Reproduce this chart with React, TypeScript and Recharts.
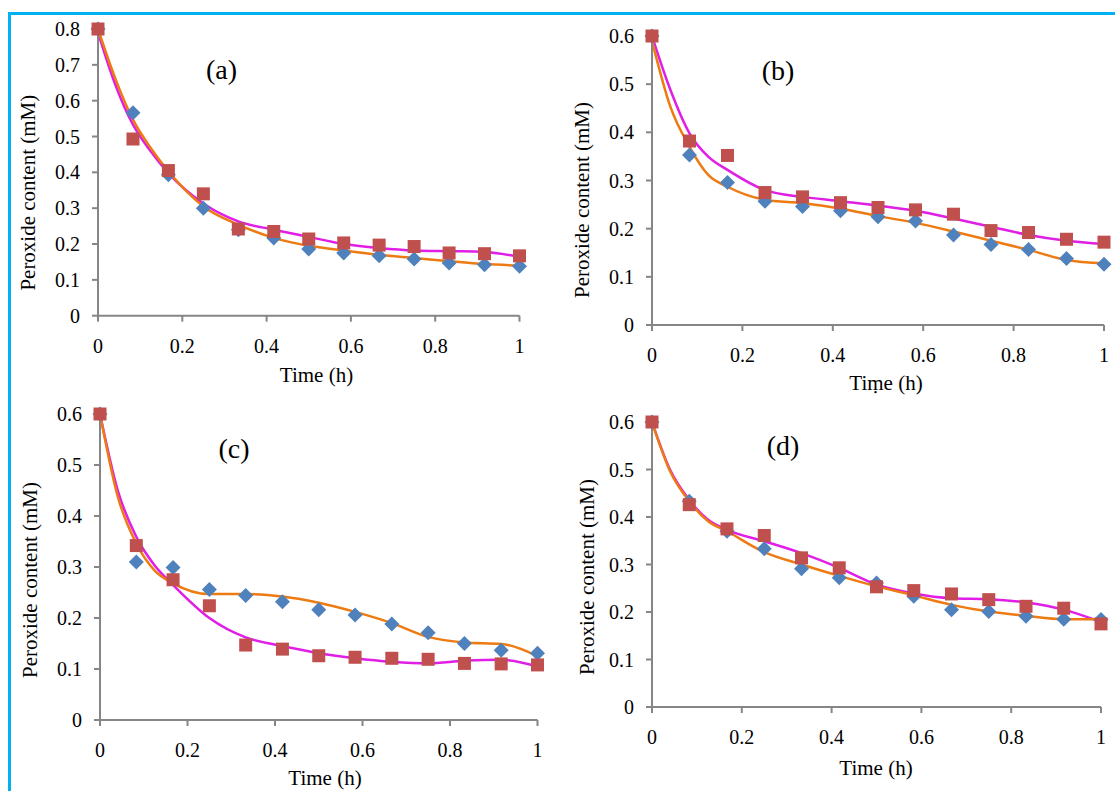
import React from 'react';
import {
  ComposedChart,
  Scatter,
  Line,
  XAxis,
  YAxis,
  Label,
} from 'recharts';

// sampling times (h) of the measured points
const TIME = [0, 0.083, 0.167, 0.25, 0.333, 0.417, 0.5, 0.583, 0.667, 0.75, 0.833, 0.917, 1];
// times at which the fitted curves are listed
const FIT_TIME = [0, 0.04, 0.083, 0.125, 0.167, 0.25, 0.333, 0.417, 0.5, 0.583, 0.667, 0.75, 0.833, 0.917, 1];

const X_TICKS = [0, 0.2, 0.4, 0.6, 0.8, 1];
const Y_TICKS_08 = [0, 0.1, 0.2, 0.3, 0.4, 0.5, 0.6, 0.7, 0.8];
const Y_TICKS_06 = [0, 0.1, 0.2, 0.3, 0.4, 0.5, 0.6];

// (a)
const aDiamond = [0.8, 0.566, 0.393, 0.3, 0.24, 0.217, 0.186, 0.175, 0.167, 0.158, 0.147, 0.142, 0.138];
const aSquare = [0.8, 0.493, 0.405, 0.34, 0.242, 0.235, 0.214, 0.203, 0.197, 0.193, 0.175, 0.173, 0.167];
const aFitOrange = [0.8, 0.665, 0.547, 0.468, 0.403, 0.305, 0.254, 0.217, 0.195, 0.182, 0.17, 0.161, 0.152, 0.144, 0.14];
const aFitMagenta = [0.79, 0.648, 0.533, 0.459, 0.398, 0.313, 0.263, 0.24, 0.22, 0.2, 0.189, 0.182, 0.18, 0.178, 0.164];

// (b)
const bDiamond = [0.6, 0.353, 0.296, 0.257, 0.246, 0.237, 0.225, 0.216, 0.187, 0.167, 0.157, 0.138, 0.126];
const bSquare = [0.6, 0.382, 0.352, 0.275, 0.266, 0.254, 0.244, 0.239, 0.23, 0.196, 0.192, 0.178, 0.172];
const bFitOrange = [0.59, 0.455, 0.37, 0.311, 0.287, 0.26, 0.253, 0.242, 0.226, 0.212, 0.194, 0.175, 0.156, 0.135, 0.128];
const bFitMagenta = [0.6, 0.49, 0.398, 0.349, 0.322, 0.28, 0.266, 0.257, 0.248, 0.237, 0.221, 0.204, 0.187, 0.175, 0.168];

// (c)
const cDiamond = [0.6, 0.31, 0.299, 0.256, 0.244, 0.232, 0.216, 0.206, 0.188, 0.171, 0.15, 0.137, 0.131];
const cSquare = [0.6, 0.342, 0.275, 0.224, 0.147, 0.139, 0.126, 0.123, 0.121, 0.119, 0.111, 0.11, 0.108];
const cFitOrange = [0.6, 0.44, 0.346, 0.293, 0.268, 0.247, 0.247, 0.242, 0.23, 0.212, 0.19, 0.163, 0.152, 0.149, 0.125];
const cFitMagenta = [0.6, 0.452, 0.359, 0.303, 0.265, 0.2, 0.162, 0.145, 0.131, 0.121, 0.114, 0.111, 0.116, 0.118, 0.105];

// (d)
const dDiamond = [0.6, 0.433, 0.37, 0.333, 0.291, 0.272, 0.261, 0.233, 0.205, 0.201, 0.191, 0.185, 0.184];
const dSquare = [0.6, 0.426, 0.375, 0.361, 0.314, 0.293, 0.253, 0.245, 0.238, 0.226, 0.212, 0.208, 0.175];
const dFitOrange = [0.6, 0.497, 0.433, 0.391, 0.37, 0.326, 0.3, 0.276, 0.254, 0.235, 0.215, 0.201, 0.192, 0.185, 0.185];
const dFitMagenta = [0.6, 0.5, 0.436, 0.394, 0.373, 0.349, 0.324, 0.293, 0.258, 0.239, 0.229, 0.227, 0.22, 0.205, 0.179];

const FONT = "'Liberation Serif', 'Times New Roman', serif";
const AXIS = '#868686';
const BLUE = '#4F81BD';
const RED = '#C0504D';
const ORANGE = '#EE7A12';
const MAGENTA = '#E01EE6';

const toPoints = (xs: number[], ys: number[]) => xs.map((x, i) => ({ x, y: ys[i] }));
const fmt = (v: number) => String(v);

const Diamond = (props: any) => {
  const { cx, cy } = props;
  const r = 7.5;
  return (
    <polygon
      points={`${cx},${cy - r} ${cx + r},${cy} ${cx},${cy + r} ${cx - r},${cy}`}
      fill={BLUE}
    />
  );
};

const Square = (props: any) => {
  const { cx, cy } = props;
  return <rect x={cx - 6.5} y={cy - 6.5} width={13} height={13} fill={RED} />;
};

interface PanelProps {
  letter: string;
  timeLabel: string;
  plot: { left: number; right: number; top: number; bottom: number };
  yMax: number;
  yTicks: number[];
  diamonds: number[];
  squares: number[];
  fitOrange: number[];
  fitMagenta: number[];
  letterPos: [number, number];
  timePos: [number, number];
  yLabelPos: [number, number];
}

// room around each plot area for ticks and titles
const PAD_LEFT = 96;
const PAD_TOP = 20;
const PAD_RIGHT = 10;
const PAD_BOTTOM = 80;

function Panel(p: PanelProps) {
  const originX = p.plot.left - PAD_LEFT;
  const originY = p.plot.top - PAD_TOP;
  const width = p.plot.right - p.plot.left + PAD_LEFT + PAD_RIGHT;
  const height = p.plot.bottom - p.plot.top + PAD_TOP + PAD_BOTTOM;
  const tickStyle = { fontSize: 20, fill: '#000', fontFamily: FONT };

  return (
    <div style={{ position: 'absolute', left: originX, top: originY }}>
      <ComposedChart
        width={width}
        height={height}
        margin={{ top: PAD_TOP, right: PAD_RIGHT, bottom: 0, left: 0 }}
      >
        <XAxis
          type="number"
          dataKey="x"
          domain={[0, 1]}
          ticks={X_TICKS}
          tickFormatter={fmt}
          height={PAD_BOTTOM}
          tick={tickStyle}
          tickSize={6}
          tickMargin={17}
          stroke={AXIS}
          strokeWidth={2}
          tickLine={{ stroke: AXIS, strokeWidth: 2 }}
          label={
            <Label
              content={() => (
                <g>
                  <text
                    x={p.timePos[0] - originX}
                    y={p.timePos[1] - originY}
                    textAnchor="middle"
                    dominantBaseline="central"
                    fontFamily={FONT}
                    fontSize={21}
                    fill="#000"
                  >
                    {p.timeLabel}
                  </text>
                  <text
                    x={p.letterPos[0] - originX}
                    y={p.letterPos[1] - originY}
                    textAnchor="middle"
                    dominantBaseline="central"
                    fontFamily={FONT}
                    fontSize={28}
                    fill="#000"
                  >
                    {p.letter}
                  </text>
                </g>
              )}
            />
          }
        />
        <YAxis
          type="number"
          domain={[0, p.yMax]}
          ticks={p.yTicks}
          tickFormatter={fmt}
          width={PAD_LEFT}
          tick={tickStyle}
          tickSize={6}
          tickMargin={12}
          stroke={AXIS}
          strokeWidth={2}
          tickLine={{ stroke: AXIS, strokeWidth: 2 }}
          label={
            <Label
              content={() => {
                const x = p.yLabelPos[0] - originX;
                const y = p.yLabelPos[1] - originY;
                return (
                  <text
                    x={x}
                    y={y}
                    transform={`rotate(-90, ${x}, ${y})`}
                    textAnchor="middle"
                    dominantBaseline="central"
                    fontFamily={FONT}
                    fontSize={21}
                    fill="#000"
                  >
                    Peroxide content (mM)
                  </text>
                );
              }}
            />
          }
        />
        <Scatter
          data={toPoints(TIME, p.diamonds)}
          dataKey="y"
          shape={Diamond}
          isAnimationActive={false}
        />
        <Scatter
          data={toPoints(TIME, p.squares)}
          dataKey="y"
          shape={Square}
          isAnimationActive={false}
        />
        <Line
          data={toPoints(FIT_TIME, p.fitMagenta)}
          dataKey="y"
          type="monotone"
          stroke={MAGENTA}
          strokeWidth={2.5}
          dot={false}
          activeDot={false}
          isAnimationActive={false}
        />
        <Line
          data={toPoints(FIT_TIME, p.fitOrange)}
          dataKey="y"
          type="monotone"
          stroke={ORANGE}
          strokeWidth={2.5}
          dot={false}
          activeDot={false}
          isAnimationActive={false}
        />
      </ComposedChart>
    </div>
  );
}

export default function App() {
  return (
    <div
      style={{
        position: 'absolute',
        left: 0,
        top: 0,
        width: 1115,
        height: 791,
        background: '#fff',
        overflow: 'hidden',
        fontFamily: FONT,
      }}
    >
      {/* frame edges */}
      <div style={{ position: 'absolute', left: 8, top: 12, width: 1107, height: 3, background: '#00B0F0', zIndex: 2 }} />
      <div style={{ position: 'absolute', left: 8, top: 12, width: 3, height: 779, background: '#00B0F0', zIndex: 2 }} />

      <Panel
        letter="(a)"
        timeLabel="Time (h)"
        plot={{ left: 97.5, right: 519, top: 29.3, bottom: 316 }}
        yMax={0.8}
        yTicks={Y_TICKS_08}
        diamonds={aDiamond}
        squares={aSquare}
        fitOrange={aFitOrange}
        fitMagenta={aFitMagenta}
        letterPos={[221, 70]}
        timePos={[316, 375]}
        yLabelPos={[27, 193]}
      />
      <Panel
        letter="(b)"
        timeLabel="Tiṃe (h)"
        plot={{ left: 652, right: 1104, top: 36, bottom: 325 }}
        yMax={0.6}
        yTicks={Y_TICKS_06}
        diamonds={bDiamond}
        squares={bSquare}
        fitOrange={bFitOrange}
        fitMagenta={bFitMagenta}
        letterPos={[778, 70]}
        timePos={[886, 383]}
        yLabelPos={[582, 200]}
      />
      <Panel
        letter="(c)"
        timeLabel="Time (h)"
        plot={{ left: 100, right: 537.5, top: 414, bottom: 720 }}
        yMax={0.6}
        yTicks={Y_TICKS_06}
        diamonds={cDiamond}
        squares={cSquare}
        fitOrange={cFitOrange}
        fitMagenta={cFitMagenta}
        letterPos={[234, 448]}
        timePos={[325, 778]}
        yLabelPos={[30, 580]}
      />
      <Panel
        letter="(d)"
        timeLabel="Time (h)"
        plot={{ left: 652, right: 1101, top: 422, bottom: 707 }}
        yMax={0.6}
        yTicks={Y_TICKS_06}
        diamonds={dDiamond}
        squares={dSquare}
        fitOrange={dFitOrange}
        fitMagenta={dFitMagenta}
        letterPos={[783, 445]}
        timePos={[876, 768]}
        yLabelPos={[587, 577]}
      />
    </div>
  );
}
